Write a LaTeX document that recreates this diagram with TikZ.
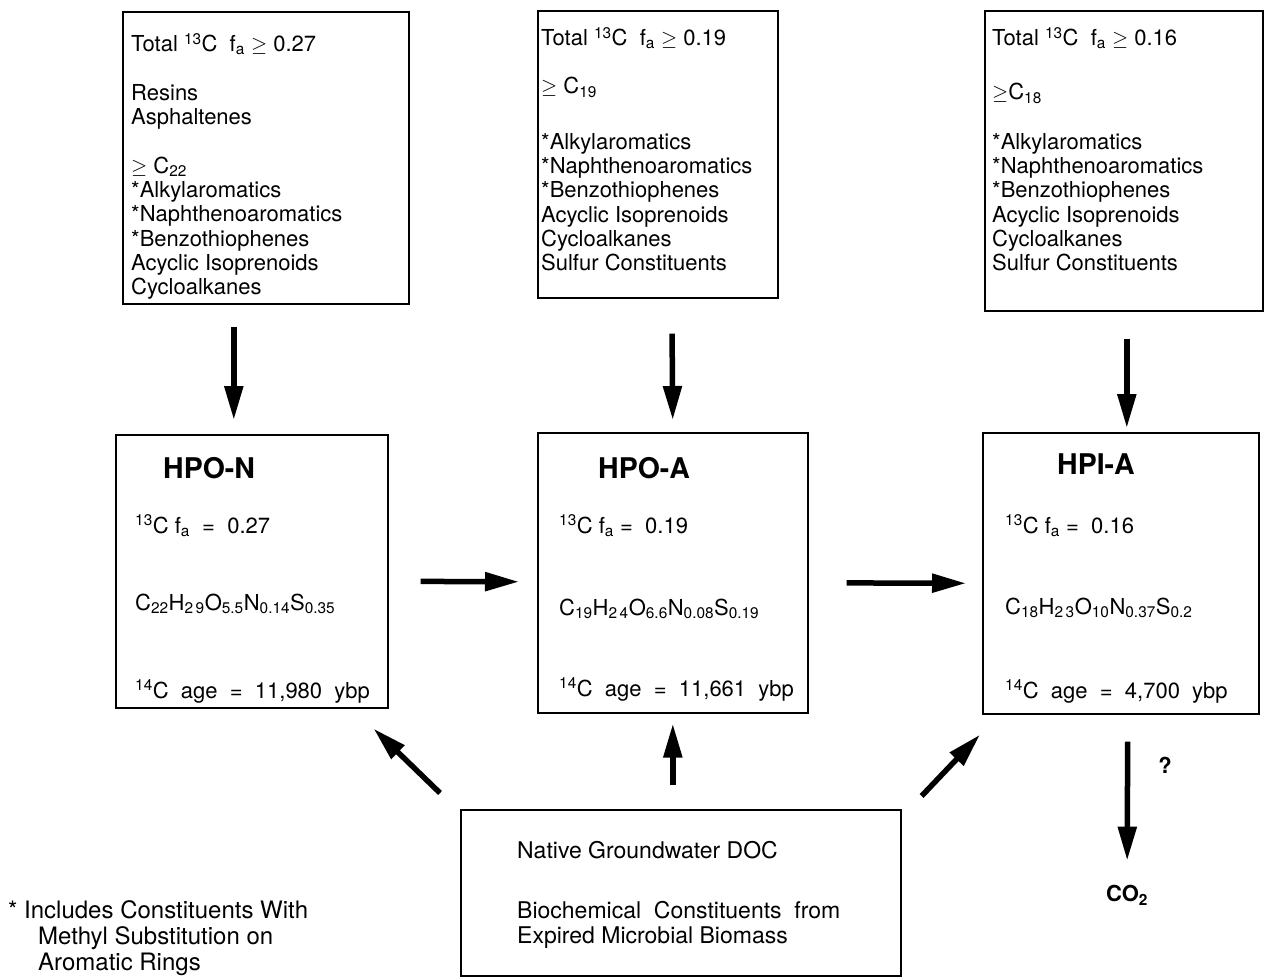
\documentclass[tikz,border=0pt]{standalone}
\usepackage{fontspec}
\setmainfont{TeX Gyre Heros}
\usetikzlibrary{arrows.meta,positioning}

\newcommand{\fa}{f\textsubscript{a}}
\newcommand{\atleast}{\ensuremath{\geq}}

\tikzset{
  box/.style={draw, line width=1.6pt, inner sep=0pt, anchor=north west},
  txt/.style={inner sep=0pt, align=left, font=\fontsize{22}{24.3}\selectfont},
  title/.style={inner sep=0pt, font=\fontsize{28.5}{32}\selectfont\bfseries},
  flow/.style={line width=5.5pt, -{Triangle[length=34pt,width=18pt]}},
}

\begin{document}
\begin{tikzpicture}[x=1pt,y=-1pt]
  \useasboundingbox (0,0) rectangle (1265,978);

  % boxes
  \node[box, minimum width=286, minimum height=292] (srcN) at (122,11) {};
  \node[box, minimum width=240, minimum height=287] (srcA) at (537,10) {};
  \node[box, minimum width=278, minimum height=300] (srcI) at (984,10) {};
  \node[box, minimum width=272, minimum height=273] (hpon) at (115,434) {};
  \node[box, minimum width=270, minimum height=280] (hpoa) at (537,432) {};
  \node[box, minimum width=276, minimum height=281] (hpia) at (982,432) {};
  \node[box, minimum width=440, minimum height=166] (doc)  at (460,809) {};

  % constituents of each fraction
  \node[txt, anchor=north west] (srcNt) at (131,33) {%
    Total \textsuperscript{13}C\ \ \fa\ \atleast\ 0.27\\[24.3pt]
    Resins\\
    Asphaltenes\\[24.3pt]
    \atleast\ C\textsubscript{22}\\
    *Alkylaromatics\\
    *Naphthenoaromatics\\
    *Benzothiophenes\\
    Acyclic Isoprenoids\\
    Cycloalkanes};
  \node[txt, anchor=north west] (srcAt) at (541,27) {%
    Total \textsuperscript{13}C\ \ \fa\ \atleast\ 0.19\\[24pt]
    \atleast\ C\textsubscript{19}\\[31pt]
    *Alkylaromatics\\
    *Naphthenoaromatics\\
    *Benzothiophenes\\
    Acyclic Isoprenoids\\
    Cycloalkanes\\
    Sulfur Constituents};
  \node[txt, anchor=north west] (srcIt) at (992,27) {%
    Total \textsuperscript{13}C\ \ \fa\ \atleast\ 0.16\\[30pt]
    \atleast C\textsubscript{18}\\[25pt]
    *Alkylaromatics\\
    *Naphthenoaromatics\\
    *Benzothiophenes\\
    Acyclic Isoprenoids\\
    Cycloalkanes\\
    Sulfur Constituents};

  % fractions
  \node[title, anchor=base west] (hponT) at (163,478) {HPO-N};
  \node[txt, anchor=base west] (hponF) at (135,533) {\textsuperscript{13}C \fa\ \ = \ 0.27};
  \node[txt, anchor=base west] (hponC) at (135,610)
    {C\textsubscript{22}H\textsubscript{2\,9}O\textsubscript{5.5}N\textsubscript{0.14}S\textsubscript{0.35}};
  \node[txt, anchor=base west] (hponY) at (135,698) {\textsuperscript{14}C \ age \ = \ 11,980 \ ybp};

  \node[title, anchor=base west] (hpoaT) at (598,478) {HPO-A};
  \node[txt, anchor=base west] (hpoaF) at (559,533) {\textsuperscript{13}C \fa\ = \ 0.19};
  \node[txt, anchor=base west] (hpoaC) at (559,615)
    {C\textsubscript{19}H\textsubscript{2\,4}O\textsubscript{6.6}N\textsubscript{0.08}S\textsubscript{0.19}};
  \node[txt, anchor=base west] (hpoaY) at (559,696) {\textsuperscript{14}C \ age \ = \ 11,661 \ ybp};

  \node[title, anchor=base west] (hpiaT) at (1057,474) {HPI-A};
  \node[txt, anchor=base west] (hpiaF) at (1005,533) {\textsuperscript{13}C \fa\ = \ 0.16};
  \node[txt, anchor=base west] (hpiaC) at (1005,614)
    {C\textsubscript{18}H\textsubscript{2\,3}O\textsubscript{10}N\textsubscript{0.37}S\textsubscript{0.2}};
  \node[txt, anchor=base west] (hpiaY) at (1005,698) {\textsuperscript{14}C \ age \ = \ 4,700 \ ybp};

  % groundwater source
  \node[txt, anchor=base west, font=\fontsize{23}{25.5}\selectfont] (docA) at (517,858) {Native Groundwater DOC};
  \node[txt, anchor=north west, font=\fontsize{23}{25.5}\selectfont] (docB) at (517,901) {%
    Biochemical \ Constituents \ from\\
    Expired Microbial Biomass};

  \node[title, font=\fontsize{22}{26}\selectfont\bfseries] (co2) at (1127,895) {CO\textsubscript{2}};
  \node[title, font=\fontsize{22}{26}\selectfont\bfseries] (q) at (1165,765) {?};

  \node[txt, anchor=north west, font=\fontsize{24}{26}\selectfont] (note) at (8,900) {%
    * Includes Constituents With\\
    \hspace*{30pt}Methyl Substitution on\\
    \hspace*{30pt}Aromatic Rings};

  % arrows
  \draw[flow, shorten <=22, shorten >=14] ([xshift=-32]srcN.south) -- ([xshift=-18]hpon.north);
  \draw[flow, shorten <=35, shorten >=12] ([xshift=14]srcA.south) -- (hpoa.north);
  \draw[flow, shorten <=27, shorten >=4]  ([xshift=3]srcI.south) -- ([xshift=6]hpia.north);
  \draw[flow, shorten <=32, shorten >=18] ([yshift=-10]hpon.east) -- ([yshift=-9]hpoa.west);
  \draw[flow, shorten <=38, shorten >=16] ([yshift=-10]hpoa.east) -- ([yshift=-10]hpia.west);
  \draw[flow] ([shift={(-20,-16)}]doc.north west) -- ([shift={(-15,20)}]hpon.south east);
  \draw[flow, shorten <=24, shorten >=10] ([xshift=-8]doc.north) -- ([xshift=0]hpoa.south);
  \draw[flow] ([shift={(20,-13)}]doc.north east) -- ([shift={(-2,20)}]hpia.south west);
  \draw[flow, shorten <=27, shorten >=24] ([xshift=7]hpia.south) -- (co2);
\end{tikzpicture}
\end{document}
